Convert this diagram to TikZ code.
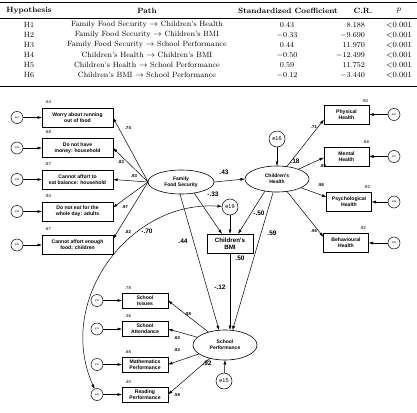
\documentclass[tikz,border=0pt]{standalone}
\usepackage{fontspec}
\newfontfamily\dsans{Liberation Sans}
\usetikzlibrary{shapes.geometric,arrows.meta,calc}
\begin{document}
\begin{tikzpicture}[x=1pt,y=-1pt,
 every node/.style={inner sep=0pt, outer sep=0pt},
 tbl/.style={font=\fontsize{7.6}{9}\selectfont},
 tblh/.style={font=\fontsize{7.6}{9}\selectfont\bfseries},
 obs/.style={draw, line width=0.6pt, align=center, font=\dsans\bfseries\fontsize{5.1}{5.7}\selectfont, minimum height=19pt},
 lat/.style={draw, ellipse, line width=0.6pt, align=center, font=\dsans\bfseries\fontsize{5}{5.8}\selectfont},
 err/.style={draw, circle, minimum size=12pt, font=\dsans\fontsize{2.6}{3}\selectfont, line width=0.5pt},
 bigerr/.style={draw, circle, minimum size=16pt, font=\dsans\fontsize{5.5}{6}\selectfont, line width=0.5pt},
 rsq/.style={font=\dsans\fontsize{4.3}{4.8}\selectfont},
 pl/.style={font=\dsans\bfseries\fontsize{4.3}{4.8}\selectfont},
 bl/.style={font=\dsans\bfseries\fontsize{6.5}{7}\selectfont},
 arr/.style={line width=0.5pt, -{Latex[length=4.5pt,width=3pt]}},
 dbl/.style={line width=0.5pt, {Latex[length=4.5pt,width=3pt]}-{Latex[length=4.5pt,width=3pt]}},
]
\useasboundingbox (0,0) rectangle (417,412);
% ---------------- table ----------------
\draw[line width=0.8pt] (0,2) -- (417,2);
\draw[line width=0.5pt] (0,18) -- (417,18);
\draw[line width=0.8pt] (0,86) -- (417,86);
\node[tblh] (th1) at (29,11) {Hypothesis};
\node[tblh] (th2) at (147,11) {Path};
\node[tblh] (th3) at (288,11) {Standardized Coefficient};
\node[tblh] (th4) at (363,11) {C.R.};
\node[tblh] (th5) at (399,11) {$p$};
\foreach \h/\p/\c/\r [count=\i] in {
 H1/Family Food Security $\rightarrow$ Children's Health/0.43/8.188,
 H2/Family Food Security $\rightarrow$ Children's BMI/$-$0.33/$-$9.690,
 H3/Family Food Security $\rightarrow$ School Performance/0.44/11.970,
 H4/Children's Health $\rightarrow$ Children's BMI/$-$0.50/$-$12.499,
 H5/Children's Health $\rightarrow$ School Performance/0.59/11.752,
 H6/Children's BMI $\rightarrow$ School Performance/$-$0.12/$-$3.440}{
 \pgfmathsetmacro\yy{15+10*\i}
 \node[tbl] (ta\i) at (29,\yy) {\h};
 \node[tbl] (tb\i) at (147,\yy) {\p};
 \node[tbl] (tc\i) at (287,\yy) {\c};
 \node[tbl, anchor=east] (td\i) at (365,\yy) {\r};
 \node[tbl] (te\i) at (399,\yy) {${<}0.001$};
}
% ---------------- latent variables ----------------
\node[lat, minimum width=66pt, minimum height=24pt] (ffs) at (181,182) {Family\\Food Security};
\node[lat, minimum width=64pt, minimum height=26pt] (ch) at (277,179) {Children's\\Health};
\node[lat, minimum width=64pt, minimum height=30pt] (sp) at (225,345) {School\\Performance};
\node[obs, minimum width=46pt, font=\dsans\bfseries\fontsize{6.2}{7}\selectfont] (bmi) at (230,243.5) {Children's\\BMI};
\node[bigerr] (e16) at (277,139) {e16};
\node[bigerr] (e19) at (230,207) {e19};
\node[bigerr] (e15) at (224,381) {e15};
\node[bl] (l18) at (295,161) {.18};
\node[bl] (l92) at (207,363) {.92};
% ---------------- left indicators ----------------
\foreach \i/\y/\t/\r/\e/\lx/\ly/\lv/\sh in {
 1/117.5/{Worry about running\\out of food}/.54/e01/128/128/.74/0,
 2/148/{Do not have\\money: household}/.68/e02/121/162/.83/0,
 3/179.5/{Cannot affort to\\eat balance: household}/.87/e03/134/176/.93/0,
 4/211.5/{Do not eat for the\\whole day: adults}/.94/e04/125/207/.97/4,
 5/245/{Cannot affort enough\\food: children}/.67/e05/128/232/.82/6}{
 \node[obs, minimum width=71pt] (L\i) at (77.5,\y) {\t};
 \node[err] (eL\i) at (17,\y) {\e};
 \node[rsq] (rL\i) at (48,\y-15.5) {\r};
 \node[pl] (pL\i) at (\lx,\ly) {\lv};
 \draw[arr] (eL\i) -- (L\i);
 \draw[arr] (ffs.west) -- ([yshift=\sh pt]L\i.east);
}
% ---------------- right indicators ----------------
\foreach \i/\x/\y/\t/\r/\rx/\ry/\e/\lx/\ly/\lv/\sh in {
 1/346.5/114.5/{Physical\\Health}/.50/365/101/e06/314/127/.71/-5,
 2/346.5/156.5/{Mental\\Health}/.68/366/142/e07/323/166/.89/-1,
 3/349/202/{Psychological\\Health}/.92/367/187/e08/321/185/.96/5,
 4/346/243/{Behavioural\\Health}/.92/363/228/e09/314/231/.96/6}{
 \node[obs, minimum width=45pt] (R\i) at (\x,\y) {\t};
 \node[err] (eR\i) at (394,\y) {\e};
 \node[rsq] (rR\i) at (\rx,\ry) {\r};
 \node[pl] (pR\i) at (\lx,\ly) {\lv};
 \draw[arr] (eR\i) -- (R\i);
 \draw[arr] (ch) -- ([yshift=\sh pt]R\i.west);
}
% ---------------- school indicators ----------------
\foreach \i/\y/\t/\r/\e/\lx/\ly/\lv in {
 1/300.5/{School\\Issues}/.78/e10/188/314/.88,
 2/329/{School\\Attendance}/.36/e11/177/338/.60,
 3/364.5/{Mathematics\\Performance}/.68/e12/177/350/.82,
 4/394.5/{Reading\\Performance}/.40/e13/177/395/.59}{
 \node[obs, minimum width=46pt, minimum height=15pt] (S\i) at (145,\y) {\t};
 \node[err] (eS\i) at (97,\y) {\e};
 \node[rsq] (rS\i) at (128,\y-12.5) {\r};
 \node[pl] (pS\i) at (\lx,\ly) {\lv};
 \draw[arr] (eS\i) -- (S\i);
 \draw[arr] (sp) -- (S\i.east);
}
% ---------------- structural paths ----------------
\draw[arr] (ffs.east) -- (ch.west);
\draw[arr] (e16) -- (ch.north);
\draw[arr] (ffs.-40) -- ($(bmi.north)+(-8,0)$);
\draw[arr] (e19) -- (bmi.north);
\draw[arr] (ch.-135) -- ($(bmi.north)+(8,0)$);
\draw[arr] (ffs.-95) -- (sp.112);
\draw[arr] (bmi.south) -- (bmi.south |- sp.north);
\draw[arr] (ch) -- (sp.63);
\draw[arr] (e15) -- (sp.south);
\draw[dbl] (e19) .. controls (130,200) and (55,300) .. (eS4);
% big path labels
\node[bl] (l43) at (224,172) {.43};
\node[bl] (l33) at (213,194) {-.33};
\node[bl] (l50a) at (259,213) {-.50};
\node[bl] (l59) at (272,233) {.59};
\node[bl] (l44) at (183,241) {.44};
\node[bl] (l50b) at (240,258) {.50};
\node[bl] (l12) at (220,287) {-.12};
\node[bl] (l70) at (147,231) {-.70};
\end{tikzpicture}
\end{document}
